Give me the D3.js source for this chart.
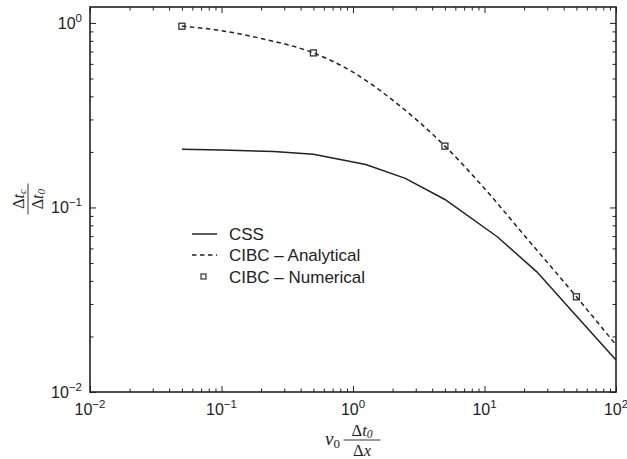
<!DOCTYPE html>
<html><head><meta charset="utf-8">
<script src="https://cdn.jsdelivr.net/npm/d3@7"></script>
<style>body{margin:0;background:#fff}</style>
</head><body>
<svg id="c" width="627" height="459"></svg>
<script>
const xTickExps=[-2,-1,0,1,2];
const yTickExps=[-2,-1,0];
const cssX=[0.05,0.1,0.25,0.5,1.25,2.5,5,12.5,25,50,100];
const cssY=[0.207,0.205,0.201,0.194,0.171,0.1437,0.1105,0.0694,0.0448,0.0258,0.0149];
const anaX=[0.05,0.1,0.2,0.5,1,2,5,10,20,50,100];
const anaY=[0.96,0.908,0.824,0.688,0.541,0.382,0.215,0.1268,0.0708,0.0328,0.018];
const numX=[0.05,0.5,5,50];
const numY=[0.96,0.688,0.215,0.0328];
const legendLabels=["CSS","CIBC \u2013 Analytical","CIBC \u2013 Numerical"];

const L=90,R=616,T=7,B=392;
const svg=d3.select("#c");
const x=d3.scaleLog().domain([0.01,100]).range([L,R]);
const y=d3.scaleLog().domain([0.01,1.22]).range([B,T]);
const ink="#222";

function minorTicks(dom){
  const out=[];
  const lo=Math.floor(Math.log10(dom[0])),hi=Math.ceil(Math.log10(dom[1]));
  for(let e=lo;e<hi;e++)for(let m=2;m<=9;m++){const v=m*Math.pow(10,e);if(v>dom[0]&&v<dom[1])out.push(v);}
  return out;
}
const xMaj=xTickExps.map(e=>Math.pow(10,e)), yMaj=yTickExps.map(e=>Math.pow(10,e));
const xMin=minorTicks(x.domain()), yMin=minorTicks(y.domain());

function ax(gen,tr,vals,size){
  const g=svg.append("g").attr("transform",tr).call(gen.tickValues(vals).tickSize(size).tickSizeOuter(0).tickFormat(""));
  g.select(".domain").remove();
  g.selectAll("line").attr("stroke",ink).attr("stroke-width",1);
}
ax(d3.axisBottom(x),`translate(0,${B})`,xMaj,-6);
ax(d3.axisBottom(x),`translate(0,${B})`,xMin,-3.5);
ax(d3.axisTop(x),`translate(0,${T})`,xMaj,-6);
ax(d3.axisTop(x),`translate(0,${T})`,xMin,-3.5);
ax(d3.axisLeft(y),`translate(${L},0)`,yMaj,-6);
ax(d3.axisLeft(y),`translate(${L},0)`,yMin,-3.5);
ax(d3.axisRight(y),`translate(${R},0)`,yMaj,-6);
ax(d3.axisRight(y),`translate(${R},0)`,yMin,-3.5);

svg.append("rect").attr("x",L).attr("y",T).attr("width",R-L).attr("height",B-T)
  .attr("fill","none").attr("stroke",ink).attr("stroke-width",1.6);

const font="'Liberation Sans',Arial,Helvetica,sans-serif";
xTickExps.forEach(e=>{
  const t=svg.append("text").attr("x",x(Math.pow(10,e))).attr("y",415).attr("text-anchor","middle")
    .attr("font-family",font).attr("font-size",16).attr("fill",ink);
  t.append("tspan").text("10");
  t.append("tspan").attr("dy",-7).attr("font-size",11.5).text(e<0?"\u2212"+(-e):String(e));
});
yTickExps.forEach(e=>{
  const t=svg.append("text").attr("x",82).attr("y",y(Math.pow(10,e))+6).attr("text-anchor","end")
    .attr("font-family",font).attr("font-size",16).attr("fill",ink);
  t.append("tspan").text("10");
  t.append("tspan").attr("dy",-7).attr("font-size",11.5).text(e<0?"\u2212"+(-e):String(e));
});

const cssData=cssX.map((v,i)=>[v,cssY[i]]);
const anaData=anaX.map((v,i)=>[v,anaY[i]]);
const numData=numX.map((v,i)=>[v,numY[i]]);
svg.append("path").datum(cssData).attr("d",d3.line().x(d=>x(d[0])).y(d=>y(d[1])))
  .attr("fill","none").attr("stroke",ink).attr("stroke-width",1.5);
svg.append("path").datum(anaData).attr("d",d3.line().curve(d3.curveMonotoneX).x(d=>x(d[0])).y(d=>y(d[1])))
  .attr("fill","none").attr("stroke",ink).attr("stroke-width",1.5).attr("stroke-dasharray","4.5,3.5");
svg.selectAll(".num").data(numData).join("rect").attr("class","num")
  .attr("x",d=>x(d[0])-3).attr("y",d=>y(d[1])-3).attr("width",6).attr("height",6)
  .attr("fill","none").attr("stroke","#333").attr("stroke-width",1.3);

const lg=svg.append("g");
const ly=[234,255,276.5];
lg.append("line").attr("x1",192).attr("x2",217).attr("y1",ly[0]).attr("y2",ly[0]).attr("stroke",ink).attr("stroke-width",1.5);
lg.append("line").attr("x1",192).attr("x2",217).attr("y1",ly[1]).attr("y2",ly[1]).attr("stroke",ink).attr("stroke-width",1.5).attr("stroke-dasharray","4.5,3.5");
lg.append("rect").attr("x",201).attr("y",ly[2]-2.5).attr("width",5).attr("height",5).attr("fill","none").attr("stroke","#333").attr("stroke-width",1.2);
legendLabels.forEach((s,i)=>{
  lg.append("text").attr("x",229).attr("y",ly[i]+6).attr("font-family",font).attr("font-size",17).attr("fill",ink).text(s);
});

const serif="'Liberation Serif','Times New Roman',serif";
function frac(g,num,den,sub1,sub2,w,nb,db,fs){
  const a=g.append("text").attr("x",0).attr("y",nb).attr("text-anchor","middle").attr("font-family",serif).attr("font-size",fs).attr("fill",ink);
  a.append("tspan").text("\u0394");
  a.append("tspan").attr("font-style","italic").text(num);
  a.append("tspan").attr("font-style","italic").attr("font-size",fs*0.7).attr("dy",2).text(sub1);
  g.append("line").attr("x1",-w/2).attr("x2",w/2).attr("y1",0).attr("y2",0).attr("stroke",ink).attr("stroke-width",0.9);
  const b=g.append("text").attr("x",0).attr("y",db).attr("text-anchor","middle").attr("font-family",serif).attr("font-size",fs).attr("fill",ink);
  b.append("tspan").text("\u0394");
  b.append("tspan").attr("font-style","italic").text(den);
  if(sub2) b.append("tspan").attr("font-style","italic").attr("font-size",fs*0.7).attr("dy",2).text(sub2);
}
const yl=svg.append("g").attr("transform","translate(28,199) rotate(-90)");
frac(yl,"t","t","c","0",31,-4,15,16);

const xl=svg.append("g");
const v=xl.append("text").attr("x",325).attr("y",445).attr("font-family",serif).attr("font-size",19).attr("fill",ink);
v.append("tspan").attr("font-style","italic").text("v");
v.append("tspan").attr("font-size",13).attr("dy",3).text("0");
const xf=xl.append("g").attr("transform","translate(362,440)");
frac(xf,"t","x","0",null,37,-4,16,16.5);
</script>
</body></html>
